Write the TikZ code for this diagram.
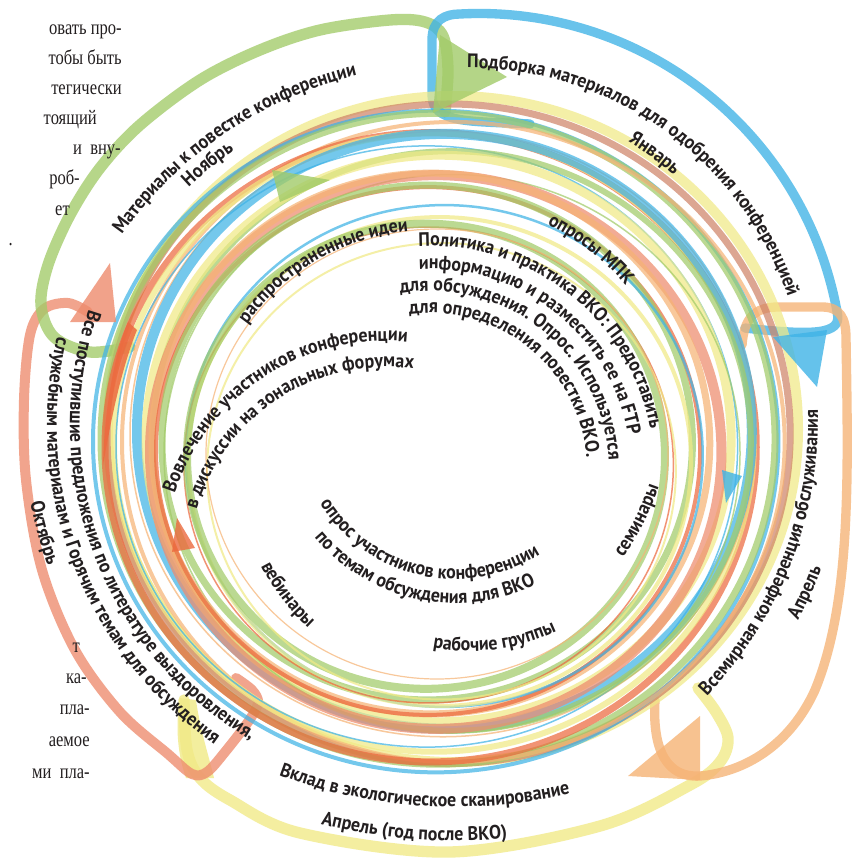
\documentclass[tikz,border=0pt]{standalone}
\usepackage{fontspec}
\usetikzlibrary{decorations.text}
\newfontfamily\lblfam{PT Sans}[FakeStretch=0.92]
\newfontfamily\bodyfam{Liberation Serif}[FakeStretch=0.8]
\definecolor{cBlue}{HTML}{3FB3E6}
\definecolor{cGreen}{HTML}{A2CB69}
\definecolor{cYellow}{HTML}{F1EA86}
\definecolor{cOrange}{HTML}{F6B375}
\definecolor{cSalmon}{HTML}{EE8B6D}
\definecolor{cRed}{HTML}{EC6A3F}
\definecolor{cBrown}{HTML}{CF8468}
\definecolor{txt}{HTML}{231F20}
\newcommand\lbltext{\lblfam\bfseries\fontsize{14.6}{18}\selectfont}
\newcommand\arclabel[6]{%
  \path[decorate, decoration={text along path, text align=center, text color=txt,
     text={|\lbltext|#6}}]
     ([shift={(#4:#3)}]#1,#2) arc[start angle=#4, end angle=#5, radius=#3];}
\tikzset{
  ring/.style={opacity=0.72},
  band/.style={opacity=0.78, line cap=round, line join=round},
  tri/.style={opacity=0.8},
  bodytext/.style={font=\bodyfam\fontsize{15.5}{18}\selectfont, text=txt, inner sep=0pt, anchor=base east}
}
\begin{document}
\begin{tikzpicture}[x=0.75pt, y=-0.75pt]
\useasboundingbox (0,0) rectangle (852,859);
\fill[white] (0,0) rectangle (852,859);
\begin{scope}
\clip (0,0) rectangle (852,859);
% ---------- outer loops ----------
% yellow loop (bottom)
\draw[band, draw=cYellow, line width=8.5pt] plot[smooth, tension=0.55] coordinates {(698,688) (716,712) (728,738) (720,762) (690,785) (600,826) (450,852) (300,833) (230,800) (200,778) (187,750) (184,700)};
\fill[cYellow, opacity=0.8] (180,698) -- (196,700) .. controls (200,730) and (210,760) .. (214,778) -- (186,778) .. controls (176,750) and (176,720) .. cycle;
% red loop (left)
\draw[band, draw=cSalmon, line width=7.5pt] plot[smooth, tension=0.55] coordinates {(236,678) (252,690) (258,703) (248,722) (225,752) (207,772) (192,774) (168,754) (120,712) (75,650) (42,570) (26,480) (24,400) (30,335) (44,309) (68,303) (88,312)};
% green loop (top left)
\draw[band, draw=cGreen, line width=8.5pt] plot[smooth, tension=0.55] coordinates {(130,347) (90,352) (54,337) (41,305) (48,265) (70,215) (100,168) (140,125) (200,80) (260,50) (320,30) (390,20) (425,22) (443,36) (448,70) (445,112)};
% blue loop (top right)
\draw[band, draw=cBlue, line width=7pt] (530,124) .. controls (470,121) and (432,124) .. (432,95) -- (432,40)
   .. controls (432,20) and (445,14) .. (460,14)
   arc[start angle=267, end angle=350, radius=364]
   .. controls (841,334) and (815,336) .. (745,328);
% orange loop (right)
\draw[band, draw=cOrange, line width=7pt] (742,345) .. controls (744,318) and (755,307) .. (778,307) -- (822,307)
   .. controls (840,307) and (846,318) .. (846,338)
   .. controls (848,470) and (852,600) .. (815,690)
   .. controls (790,745) and (745,772) .. (700,776)
   .. controls (668,778) and (652,752) .. (655,700);
% ---------- ring ----------
\foreach \t/\c/\w/\dx/\dy in {
  0.00/cYellow/10/8/-4, 0.03/cBrown/7/4/0, 0.02/cBlue/4/-9/8, 0.07/cGreen/7/-6/4,
  0.12/cOrange/4/10/6, 0.17/cRed/7/-12/10, 0.22/cYellow/6/-8/4, 0.28/cOrange/1.5/2/-6,
  0.30/cBlue/1.5/-14/6, 0.33/cBlue/10/4/-10, 0.40/cGreen/6/12/-2, 0.46/cYellow/9/0/-6,
  0.50/cGreen/1.5/14/8, 0.52/cSalmon/10/-2/6, 0.58/cOrange/7/-6/-4, 0.64/cRed/4/-8/2,
  0.70/cGreen/7/-8/-8, 0.76/cBlue/2.5/10/4, 0.82/cYellow/4/6/8, 0.88/cRed/1.5/-4/10,
  0.93/cGreen/8/-6/0, 0.97/cYellow/2/10/14, 1.00/cOrange/1.2/6/-4}{
  \pgfmathsetmacro\rcx{445-14*\t+(\dx)}
  \pgfmathsetmacro\rcy{433+25*\t+(\dy)}
  \pgfmathsetmacro\rrx{345-114*\t}
  \pgfmathsetmacro\rry{333-108*\t}
  \draw[ring, draw=\c, line width=\w*0.75pt] (\rcx,\rcy) ellipse [x radius=\rrx, y radius=\rry];
}
% red tapered swoosh
\fill[cRed, opacity=0.85] (128,322) .. controls (112,360) and (104,420) .. (103,465) .. controls (111,420) and (121,370) .. (137,330) -- cycle;
% ---------- loop arrowheads ----------
\fill[tri, cGreen] (440,35) -- (433,113) -- (507,77) -- cycle;
\fill[tri, cBlue] (773,337) -- (827,330) -- (817,387) -- cycle;
\fill[tri, cOrange] (700,716) -- (700,780) -- (628,776) -- cycle;
\fill[tri, cSalmon] (70,322) -- (116,322) -- (110,263) -- cycle;
% ring arrowheads
\fill[tri, cGreen] (272,170) -- (280,202) -- (330,180) -- cycle;
\fill[tri, cBlue] (722,470) -- (742,476) -- (726,503) -- cycle;
\fill[tri, cRed] (177,518) -- (172,552) -- (195,548) -- cycle;
\end{scope}
% ---------- labels ----------
\arclabel{452}{468}{404}{190.8}{280.8}{Материалы к повестке конференции}
\arclabel{452}{468}{385}{211.2}{251.2}{Ноябрь}
\arclabel{468}{406}{338}{250.5}{360.5}{Подборка материалов для одобрения конференцией}
\arclabel{468}{406}{309}{286.5}{326.5}{Январь}
\arclabel{420}{420}{398}{61.2}{-18.8}{Всемирная конференция обслуживания}
\arclabel{420}{420}{428}{39.1}{9.1}{Апрель}
\arclabel{455}{300}{507}{118.6}{68.6}{Вклад в экологическое сканирование}
\arclabel{455}{300}{541}{114.4}{74.4}{Апрель (год после ВКО)}
\arclabel{435}{425}{365}{209.4}{109.4}{Все поступившие предложения по литературе выздоровления,}
\arclabel{435}{425}{388}{208.9}{108.9}{служебным материалам и Горячим темам для обсуждения}
\arclabel{435}{425}{412}{179.6}{149.6}{Октябрь}
\arclabel{430}{455}{225}{200}{280}{распространенные идеи}
\arclabel{430}{455}{259}{283}{333}{опросы МПК}
\arclabel{430}{470}{224}{248.3}{368.3}{Политика и практика ВКО: Предоставить}
\arclabel{430}{470}{201}{248.5}{368.5}{информацию и разместить ее на FTP}
\arclabel{430}{470}{179}{238.7}{378.7}{для обсуждения. Опрос. Используется}
\arclabel{430}{470}{157}{239}{379}{для определения повестки ВКО.}
\arclabel{386}{564}{223}{182}{292}{Вовлечение участников конференции}
\arclabel{386}{564}{197}{182}{292}{в дискуссии на зональных форумах}
\arclabel{455}{420}{159}{177.9}{27.9}{опрос участников конференции}
\arclabel{455}{420}{183}{172}{32}{по темам обсуждения для ВКО}
\arclabel{450}{470}{212}{162.5}{122.5}{вебинары}
\arclabel{470}{450}{201}{112.6}{52.6}{рабочие группы}
\arclabel{400}{400}{273}{46.9}{6.9}{семинары}
% ---------- body text (page column) ----------
\node[bodytext] (b1) at (122,35) {овать про-};
\node[bodytext] (b2) at (122,65) {тобы быть};
\node[bodytext] (b3) at (122,95) {тегически};
\node[bodytext] (b4) at (97,125) {тоящий};
\node[bodytext] (b5) at (121,155) {и\ \ вну-};
\node[bodytext] (b6) at (80,185) {роб-};
\node[bodytext] (b7) at (70,215) {ет};
\node[bodytext] (b8) at (13,245) {.};
\node[bodytext] (c1) at (80,652) {т};
\node[bodytext] (c2) at (87,683) {ка-};
\node[bodytext] (c3) at (90,714) {пла-};
\node[bodytext] (c4) at (90,746) {аемое};
\node[bodytext] (c5) at (90,778) {ми\ \ пла-};
\end{tikzpicture}
\end{document}
